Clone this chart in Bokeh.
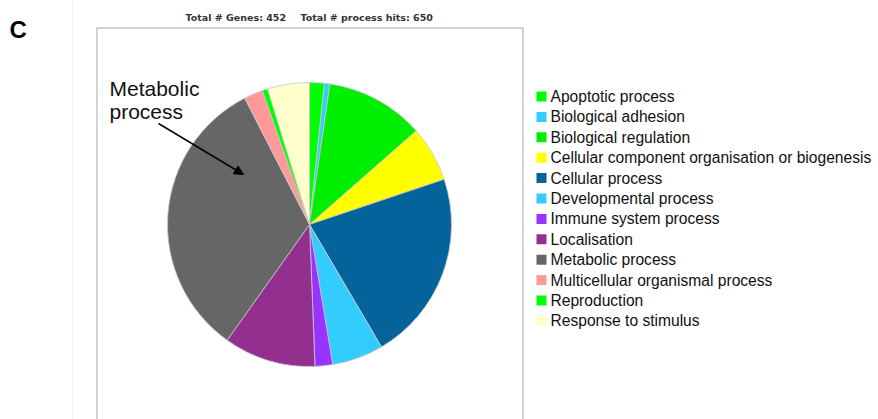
import numpy as np
from bokeh.plotting import figure
from bokeh.models import ColumnDataSource, Range1d, Arrow, NormalHead
from bokeh.core.properties import value
from bokeh.embed import file_html
from bokeh.resources import INLINE

# ---- data ----
categories = [
    "Apoptotic process",
    "Biological adhesion",
    "Biological regulation",
    "Cellular component organisation or biogenesis",
    "Cellular process",
    "Developmental process",
    "Immune system process",
    "Localisation",
    "Metabolic process",
    "Multicellular organismal process",
    "Reproduction",
    "Response to stimulus",
]
counts = [11, 4, 73, 41, 141, 38, 13, 68, 212, 14, 4, 31]
colors = [
    "#00ff00", "#33ccff", "#00ee00", "#ffff00", "#04639a", "#33ccff",
    "#9933ff", "#93308f", "#666666", "#ff9999", "#00ff00", "#ffffcc",
]
panel_label = "C"
subtitle_genes = "Total # Genes: 452"
subtitle_hits = "Total # process hits: 650"
callout_lines = ["Metabolic", "process"]

# ---- figure ----
W, H = 878, 419
p = figure(width=W, height=H, x_range=Range1d(0, W), y_range=Range1d(0, H),
           output_backend="svg", toolbar_location=None, min_border=0)
p.axis.visible = False
p.grid.visible = False
p.outline_line_color = None
p.background_fill_color = "white"
p.border_fill_color = "white"


def Y(yc):
    return H - yc


# faint panel edge and chart box
p.line(x=[72, 72], y=[Y(-5), Y(425)], line_color="#efefef", line_width=1)
p.line(x=[96.5, 96.5, 522.5, 522.5], y=[Y(425), Y(27.5), Y(27.5), Y(425)],
       line_color="#c4c4c4", line_width=1.5)

# pie
cx, cy, R = 309, Y(224), 142
total = float(sum(counts))
cum = np.concatenate([[0], np.cumsum(counts)]) / total * 2 * np.pi
theta_s, theta_e = cum[:-1], cum[1:]
src = ColumnDataSource(dict(
    cat=categories, count=counts, color=colors,
    start=np.pi / 2 - theta_e, end=np.pi / 2 - theta_s,
))
p.wedge(x=cx, y=cy, radius=R, start_angle="start", end_angle="end",
        fill_color="color", line_color="#c8c8c8", line_width=0.8, source=src)

# legend
ys = [Y(96 + i * 20.4) for i in range(len(categories))]
lsrc = ColumnDataSource(dict(cat=categories, color=colors, y=ys))
p.rect(x=541, y="y", width=10, height=10, fill_color="color", line_color=None, source=lsrc)
p.text(x=550, y="y", text="cat", source=lsrc, text_font=value("Liberation Sans"),
       text_font_size="15.6px", text_baseline="middle", text_color="#111111")

# annotation
p.text(x=[109, 109], y=[Y(88), Y(111)], text=callout_lines,
       text_font=value("Liberation Sans"), text_font_size="21px",
       text_baseline="alphabetic", text_color="#111111")
p.add_layout(Arrow(end=NormalHead(size=9, fill_color="black", line_color="black"),
                   x_start=158, y_start=Y(123), x_end=243, y_end=Y(174),
                   line_width=1.5, line_color="black"))

# panel label and subtitle
p.text(x=[9], y=[Y(29)], text=[panel_label], text_font=value("Liberation Sans"),
       text_font_size="24px", text_font_style="bold", text_baseline="alphabetic",
       text_color="black")
p.text(x=[185, 300], y=[Y(17), Y(17)], text=[subtitle_genes, subtitle_hits],
       text_font=value("DejaVu Sans"), text_font_size="9.5px", text_font_style="bold",
       text_baseline="alphabetic", text_color="#333333")

open("out.html", "w").write(file_html(p, INLINE))
